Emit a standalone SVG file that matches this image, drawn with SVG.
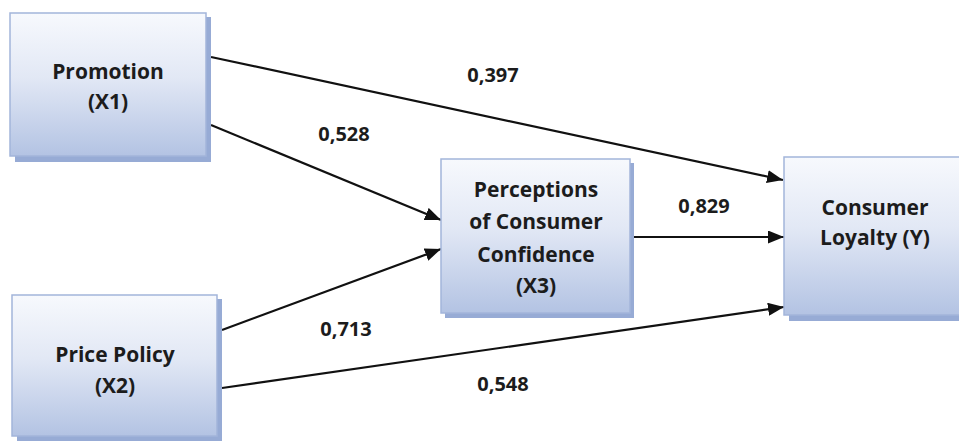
<svg xmlns="http://www.w3.org/2000/svg" width="959" height="442" viewBox="0 0 959 442">
<defs>
<linearGradient id="g" x1="0" y1="0" x2="0" y2="1">
<stop offset="0" stop-color="#f7f9fd"/>
<stop offset="0.45" stop-color="#e2e8f5"/>
<stop offset="1" stop-color="#b3c3e3"/>
</linearGradient>
<marker id="ah" markerUnits="userSpaceOnUse" markerWidth="17" markerHeight="13" refX="16" refY="6.5" orient="auto">
<path d="M0,0 L16,6.5 L0,13 z" fill="#111"/>
</marker>
</defs>
<style>
.sh{fill:#97abd5;}
.bx{fill:url(#g);stroke:#a3b5da;stroke-width:1.5;}
.t{font-family:"Open Sans","DejaVu Sans",sans-serif;font-weight:700;font-size:21px;fill:#1c1c1c;text-anchor:middle;}
.l{font-family:"Open Sans","DejaVu Sans",sans-serif;font-weight:700;font-size:20px;fill:#1c1c1c;text-anchor:middle;}
.c{stroke:#111;stroke-width:2.2;fill:none;marker-end:url(#ah);}
</style>
<rect width="959" height="442" fill="#ffffff"/>
<g id="connectors">
<line class="c" x1="211" y1="57" x2="783" y2="180"/>
<line class="c" x1="211" y1="125" x2="441" y2="220"/>
<line class="c" x1="222" y1="330" x2="441" y2="249"/>
<line class="c" x1="222" y1="388" x2="784" y2="307"/>
<line class="c" x1="634" y1="237" x2="784" y2="237"/>
</g>
<g id="labels">
<text class="l" x="493" y="82">0,397</text>
<text class="l" x="344" y="141">0,528</text>
<text class="l" x="346" y="336">0,713</text>
<text class="l" x="503" y="391">0,548</text>
<text class="l" x="704" y="213">0,829</text>
</g>
<g id="promotion">
<rect class="sh" x="15" y="17" width="196" height="145"/>
<rect class="bx" x="10" y="13" width="196" height="143"/>
<text class="t" x="108" y="79">Promotion</text>
<text class="t" x="108" y="109">(X1)</text>
</g>
<g id="price-policy">
<rect class="sh" x="17" y="299" width="205" height="142"/>
<rect class="bx" x="12" y="295" width="205" height="141"/>
<text class="t" x="115" y="362">Price Policy</text>
<text class="t" x="115" y="393">(X2)</text>
</g>
<g id="perceptions">
<rect class="sh" x="445" y="163" width="189" height="155"/>
<rect class="bx" x="441" y="159" width="189" height="154"/>
<text class="t" x="536" y="197">Perceptions</text>
<text class="t" x="536" y="229">of Consumer</text>
<text class="t" x="536" y="262">Confidence</text>
<text class="t" x="536" y="293">(X3)</text>
</g>
<g id="consumer-loyalty">
<rect class="sh" x="789" y="162" width="185" height="159"/>
<rect class="bx" x="784" y="157" width="185" height="158"/>
<text class="t" x="875" y="215">Consumer</text>
<text class="t" x="875" y="245">Loyalty (Y)</text>
</g>
</svg>
